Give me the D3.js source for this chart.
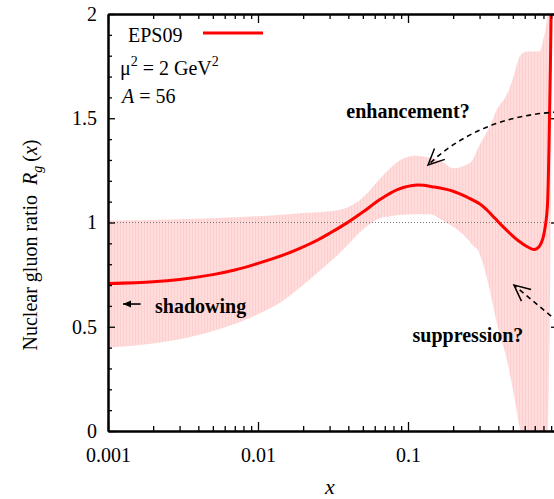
<!DOCTYPE html>
<html>
<head>
<meta charset="utf-8">
<script src="https://cdn.jsdelivr.net/npm/d3@7"></script>
<style>
  body { margin: 0; background: #fff; }
  svg text { font-family: "Liberation Serif", "Times New Roman", serif; }
</style>
</head>
<body>
<svg id="chart" width="554" height="499"></svg>
<script>
// central EPS09 curve, R_g(x) at mu^2 = 2 GeV^2, A = 56
const curveX = [0.001, 0.002, 0.003, 0.005, 0.007, 0.01, 0.015, 0.019, 0.025, 0.03, 0.039, 0.05, 0.065, 0.085, 0.115,
                0.15, 0.2, 0.25, 0.3, 0.336, 0.38, 0.43, 0.5, 0.55, 0.62, 0.7, 0.75, 0.79, 0.83, 0.85, 0.87, 0.89, 0.91];
const curveR = [0.707, 0.716, 0.727, 0.75, 0.772, 0.804, 0.846, 0.876, 0.916, 0.948, 0.997, 1.05, 1.11, 1.158, 1.18,
                1.17, 1.15, 1.12, 1.09, 1.06, 1.02, 0.98, 0.935, 0.91, 0.885, 0.87, 0.885, 0.92, 1.0, 1.08, 1.35, 1.75, 2.3];

// uncertainty band
const bandX = [0.001, 0.002, 0.003, 0.005, 0.01, 0.015, 0.02, 0.028, 0.037, 0.05, 0.065, 0.076, 0.085, 0.11, 0.14,
               0.17, 0.2, 0.25, 0.27, 0.29, 0.35, 0.39, 0.46, 0.5, 0.56, 0.62, 0.7, 0.75, 0.8, 0.85, 0.88, 0.9];
const bandHi = [1.01, 1.012, 1.015, 1.02, 1.03, 1.038, 1.045, 1.052, 1.065, 1.12, 1.21, 1.26, 1.29, 1.32, 1.31,
                1.29, 1.26, 1.28, 1.30, 1.35, 1.46, 1.54, 1.62, 1.69, 1.80, 1.82, 1.82, 1.82, 1.88, 2.0, 2.2, 2.5];
const bandLo = [0.40, 0.42, 0.44, 0.48, 0.56, 0.63, 0.70, 0.79, 0.87, 0.966, 1.02, 1.03, 1.035, 1.04, 1.04,
                1.01, 0.98, 0.92, 0.89, 0.87, 0.68, 0.52, 0.33, 0.2, 0.0, -0.15, -0.3, -0.3, -0.25, -0.05, 0.5, 1.2];

const xMajor = [0.001, 0.01, 0.1, 1];
const xMajorLabels = ["0.001", "0.01", "0.1", ""];
const yMajor = [0, 0.5, 1, 1.5, 2];
const yMajorLabels = ["0", "0.5", "1", "1.5", "2"];

const svg = d3.select("#chart");
const plotLeft = 108, plotRight = 558, plotTop = 14, plotBottom = 431;

const x = d3.scaleLog().domain([0.001, 1]).range([plotLeft, plotRight]);
const y = d3.scaleLinear().domain([0, 2]).range([plotBottom, plotTop]);

// minor ticks
let xMinor = [];
for (let d of [0.001, 0.01, 0.1]) {
  for (let k = 2; k <= 9; k++) xMinor.push(k * d);
}
let yMinor = d3.range(0, 21).map(function(i) { return i / 10; }).filter(function(v) { return Math.round(v * 10) % 5 != 0; });

const defs = svg.append("defs");
defs.append("clipPath").attr("id", "plotClip")
  .append("rect").attr("x", plotLeft).attr("y", plotTop).attr("width", plotRight - plotLeft).attr("height", plotBottom - plotTop);

// faint vertical hatching in the band
const pat = defs.append("pattern").attr("id", "hatch")
  .attr("patternUnits", "userSpaceOnUse").attr("width", 3).attr("height", 10);
pat.append("rect").attr("width", 3).attr("height", 10).attr("fill", "#ffdcdc");
pat.append("rect").attr("width", 1).attr("height", 10).attr("fill", "#ffcfcf");

defs.append("marker").attr("id", "openHead")
  .attr("markerUnits", "userSpaceOnUse").attr("orient", "auto")
  .attr("viewBox", "-17 -9 19 18").attr("markerWidth", 19).attr("markerHeight", 18)
  .attr("refX", 0).attr("refY", 0)
  .append("path").attr("d", "M-16,-7.5 L0,0 L-16,7.5")
  .attr("fill", "none").attr("stroke", "#000").attr("stroke-width", 1.5);

defs.append("marker").attr("id", "solidHead")
  .attr("markerUnits", "userSpaceOnUse").attr("orient", "auto")
  .attr("viewBox", "-8 -4 8 8").attr("markerWidth", 8).attr("markerHeight", 8)
  .attr("refX", 0).attr("refY", 0)
  .append("path").attr("d", "M-8,-3.5 L0,0 L-8,3.5 Z").attr("fill", "#000");

const plot = svg.append("g").attr("clip-path", "url(#plotClip)");

// band
const bandData = bandX.map(function(d, i) { return { x: d, lo: bandLo[i], hi: bandHi[i] }; });
const area = d3.area()
  .x(function(d) { return x(d.x); })
  .y0(function(d) { return y(d.lo); })
  .y1(function(d) { return y(d.hi); })
  .curve(d3.curveMonotoneX);
plot.append("path").datum(bandData).attr("d", area).attr("fill", "url(#hatch)");

// dotted reference line at 1
plot.append("line")
  .attr("x1", x(0.001)).attr("x2", x(1)).attr("y1", y(1)).attr("y2", y(1))
  .attr("stroke", "#777").attr("stroke-width", 1).attr("stroke-dasharray", "1,2");

// central curve
const curveData = curveX.map(function(d, i) { return { x: d, r: curveR[i] }; });
const line = d3.line()
  .x(function(d) { return x(d.x); })
  .y(function(d) { return y(d.r); })
  .curve(d3.curveCatmullRom.alpha(0.5));
plot.append("path").datum(curveData).attr("d", line)
  .attr("fill", "none").attr("stroke", "#ff0000").attr("stroke-width", 3);

// axes
function styleAxis(g) {
  g.select(".domain").attr("stroke", "#000").attr("stroke-width", 2);
  g.selectAll(".tick line").attr("stroke", "#000").attr("stroke-width", 1.3);
  g.selectAll(".tick text").attr("font-family", "Liberation Serif").attr("font-size", 20).attr("fill", "#000");
}

svg.append("g").attr("transform", "translate(0," + plotBottom + ")")
  .call(d3.axisBottom(x).tickValues(xMinor).tickFormat("").tickSizeInner(-5).tickSizeOuter(0)).call(styleAxis);
svg.append("g").attr("transform", "translate(0," + plotBottom + ")")
  .call(d3.axisBottom(x).tickValues(xMajor).tickFormat(function(d, i) { return xMajorLabels[i]; })
    .tickSizeInner(-9).tickSizeOuter(0).tickPadding(17)).call(styleAxis);

svg.append("g").attr("transform", "translate(0," + plotTop + ")")
  .call(d3.axisTop(x).tickValues(xMinor).tickFormat("").tickSizeInner(-5).tickSizeOuter(0)).call(styleAxis);
svg.append("g").attr("transform", "translate(0," + plotTop + ")")
  .call(d3.axisTop(x).tickValues(xMajor).tickFormat("").tickSizeInner(-9).tickSizeOuter(0)).call(styleAxis);

svg.append("g").attr("transform", "translate(" + plotLeft + ",0)")
  .call(d3.axisLeft(y).tickValues(yMinor).tickFormat("").tickSizeInner(-4).tickSizeOuter(0)).call(styleAxis);
svg.append("g").attr("transform", "translate(" + plotLeft + ",0)")
  .call(d3.axisLeft(y).tickValues(yMajor).tickFormat(function(d, i) { return yMajorLabels[i]; })
    .tickSizeInner(-7).tickSizeOuter(0).tickPadding(11)).call(styleAxis);

svg.append("g").attr("transform", "translate(" + plotRight + ",0)")
  .call(d3.axisRight(y).tickValues(yMinor).tickFormat("").tickSizeInner(-4).tickSizeOuter(0)).call(styleAxis);
svg.append("g").attr("transform", "translate(" + plotRight + ",0)")
  .call(d3.axisRight(y).tickValues(yMajor).tickFormat("").tickSizeInner(-7).tickSizeOuter(0)).call(styleAxis);

// axis titles
svg.append("text").attr("x", 330).attr("y", 494).attr("text-anchor", "middle")
  .attr("font-size", 22).attr("font-style", "italic").text("x");

const yt = svg.append("text").attr("transform", "translate(37,245) rotate(-90)")
  .attr("text-anchor", "middle").attr("font-size", 20);
yt.append("tspan").text("Nuclear gluon ratio\u00a0\u00a0");
yt.append("tspan").attr("font-style", "italic").text("R");
yt.append("tspan").attr("font-style", "italic").attr("font-size", 14).attr("dy", 5).text("g");
yt.append("tspan").attr("dy", -5).text("\u2009(");
yt.append("tspan").attr("font-style", "italic").text("x");
yt.append("tspan").text(")");

// annotations
const enhPath = d3.path();
enhPath.moveTo(x(1), y(1.53));
enhPath.quadraticCurveTo(x(0.30), y(1.51), x(0.136), y(1.276));
svg.append("path").attr("d", enhPath.toString())
  .attr("fill", "none").attr("stroke", "#000").attr("stroke-width", 1.6)
  .attr("stroke-dasharray", "5,4").attr("marker-end", "url(#openHead)");

svg.append("line")
  .attr("x1", x(1)).attr("y1", y(0.523)).attr("x2", x(0.509)).attr("y2", y(0.70))
  .attr("stroke", "#000").attr("stroke-width", 1.6).attr("stroke-dasharray", "5,4")
  .attr("marker-end", "url(#openHead)");

svg.append("line")
  .attr("x1", x(0.00165)).attr("y1", y(0.609)).attr("x2", x(0.00126)).attr("y2", y(0.609))
  .attr("stroke", "#000").attr("stroke-width", 1.6).attr("marker-end", "url(#solidHead)");

svg.append("text").attr("x", x(0.1)).attr("y", y(1.5)).attr("text-anchor", "middle")
  .attr("font-size", 20).attr("font-weight", "bold").text("enhancement?");
svg.append("text").attr("x", x(0.251)).attr("y", y(0.427)).attr("text-anchor", "middle")
  .attr("font-size", 20).attr("font-weight", "bold").text("suppression?");
svg.append("text").attr("x", x(0.00206)).attr("y", y(0.566))
  .attr("font-size", 20).attr("font-weight", "bold").text("shadowing");

// legend
svg.append("text").attr("x", 128).attr("y", 42).attr("font-size", 20).text("EPS09");
svg.append("line").attr("x1", 203).attr("x2", 263).attr("y1", 33).attr("y2", 33)
  .attr("stroke", "#ff0000").attr("stroke-width", 3);

const mu = svg.append("text").attr("x", 120).attr("y", 75).attr("font-size", 20);
mu.append("tspan").text("\u03bc");
mu.append("tspan").attr("font-size", 14).attr("dy", -9).text("2");
mu.append("tspan").attr("dy", 9).text(" = 2 GeV");
mu.append("tspan").attr("font-size", 14).attr("dy", -9).text("2");

const aa = svg.append("text").attr("x", 122).attr("y", 103).attr("font-size", 20);
aa.append("tspan").attr("font-style", "italic").text("A");
aa.append("tspan").text(" = 56");
</script>
</body>
</html>
